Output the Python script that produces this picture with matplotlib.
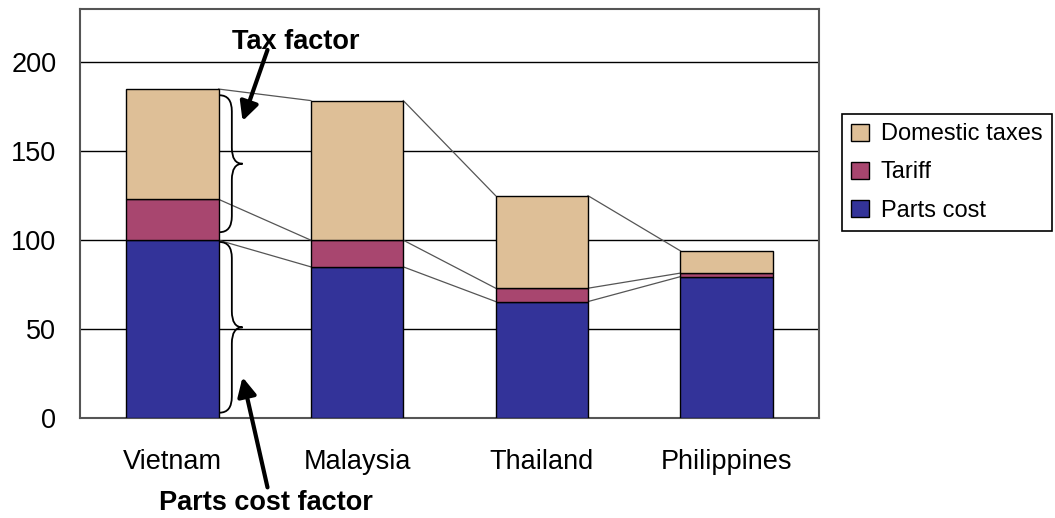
import matplotlib
matplotlib.use("Agg")
import matplotlib.pyplot as plt
from matplotlib.path import Path
from matplotlib.patches import PathPatch
import numpy as np

plt.rcParams['font.family'] = ['Liberation Sans', 'DejaVu Sans']

# data
countries = ["Vietnam", "Malaysia", "Thailand", "Philippines"]
parts_cost = [100, 85, 65.5, 79.5]
tariff = [23, 15, 7.5, 2]
domestic_taxes = [62, 78.5, 52, 12.5]
yticks = [0, 50, 100, 150, 200]

col_parts = "#333399"
col_tariff = "#A8466F"
col_tax = "#DEBF97"

fig = plt.figure(figsize=(10.55, 5.18), dpi=100)
ax = fig.add_axes([0.0758, 0.193, 0.7005, 0.7896])

x = np.arange(len(countries))
w = 0.5
parts = np.array(parts_cost)
tar = np.array(tariff)
tax = np.array(domestic_taxes)

ax.bar(x, parts, w, color=col_parts, edgecolor="black", lw=1, label="Parts cost", zorder=3)
ax.bar(x, tar, w, bottom=parts, color=col_tariff, edgecolor="black", lw=1, label="Tariff", zorder=3)
ax.bar(x, tax, w, bottom=parts + tar, color=col_tax, edgecolor="black", lw=1, label="Domestic taxes", zorder=3)

# series lines between neighbouring bars
for level in [parts, parts + tar, parts + tar + tax]:
    for i in range(len(x) - 1):
        ax.plot([x[i] + w / 2, x[i + 1] - w / 2], [level[i], level[i + 1]],
                color="#555555", lw=0.9, zorder=2)

ax.set_xlim(-0.5, 3.5)
ax.set_ylim(0, 230)
ax.set_yticks(yticks)
ax.set_xticks(x)
ax.set_xticklabels(countries)
ax.tick_params(axis="both", length=0, labelsize=19.5)
ax.tick_params(axis="y", pad=17)
ax.tick_params(axis="x", pad=22)
ax.yaxis.grid(True, color="black", lw=1, zorder=0)
for s in ax.spines.values():
    s.set_color("#555555")
    s.set_linewidth(1.5)


def brace(ax, x0, x1, x2, y0, y1, r):
    ym = (y0 + y1) / 2
    verts = [(x0, y1), (x1, y1), (x1, y1 - r), (x1, ym + r),
             (x1, ym), (x2, ym), (x1, ym), (x1, ym - r),
             (x1, y0 + r), (x1, y0), (x0, y0)]
    codes = [Path.MOVETO, Path.CURVE3, Path.CURVE3, Path.LINETO,
             Path.CURVE3, Path.CURVE3, Path.CURVE3, Path.CURVE3,
             Path.LINETO, Path.CURVE3, Path.CURVE3]
    ax.add_patch(PathPatch(Path(verts, codes), fill=False, lw=1.3,
                           edgecolor="black", zorder=4, clip_on=False))


brace(ax, 0.255, 0.322, 0.38, 104.5, 181.5, 9)
brace(ax, 0.255, 0.322, 0.38, 3, 99, 9)

arrow = dict(arrowstyle="-|>", lw=3, color="black", mutation_scale=28,
             shrinkA=0, shrinkB=0)
ax.annotate("", xy=(0.38, 167), xytext=(0.515, 207), arrowprops=arrow,
            annotation_clip=False, zorder=5)
ax.annotate("", xy=(0.38, 23), xytext=(0.515, -39), arrowprops=arrow,
            annotation_clip=False, zorder=5)
ax.text(0.669, 211.5, "Tax factor", fontsize=19.5, fontweight="bold",
        ha="center", va="center", clip_on=False)
ax.text(0.506, -48, "Parts cost factor", fontsize=19.5, fontweight="bold",
        ha="center", va="center", clip_on=False)

h, l = ax.get_legend_handles_labels()
leg = fig.legend(h[::-1], l[::-1], loc="upper left", bbox_to_anchor=(0.798, 0.78),
                 bbox_transform=fig.transFigure, borderaxespad=0, fontsize=17,
                 fancybox=False, edgecolor="black", framealpha=1,
                 handlelength=0.75, handleheight=0.75, handletextpad=0.5,
                 labelspacing=0.68, borderpad=0.4)
leg.get_frame().set_linewidth(1.2)

fig.savefig("out.png", dpi=100)
